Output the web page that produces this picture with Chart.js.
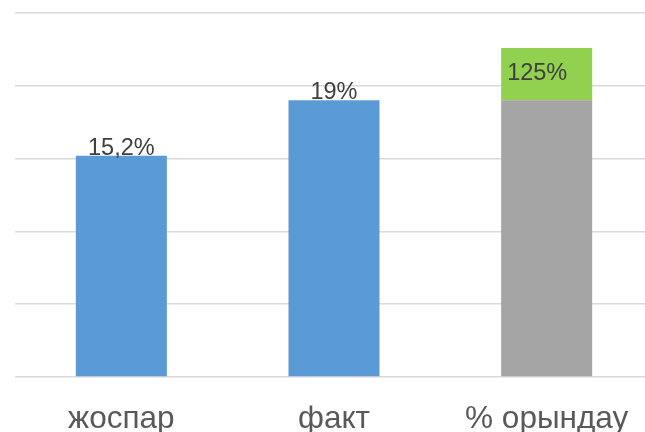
<!DOCTYPE html>
<html>
<head>
<meta charset="utf-8">
<script src="https://cdn.jsdelivr.net/npm/chart.js@4.4.0/dist/chart.umd.min.js"></script>
<style>
  html, body { margin: 0; padding: 0; overflow: hidden; background: #fff; }
  #wrap { width: 660px; height: 432px; }
</style>
</head>
<body>
<div id="wrap"><canvas id="planChart"></canvas></div>
<script>
// категориялар мен мәндер
const categories = ['жоспар', 'факт', '% орындау'];
const baseValues = [15.2, 19, 19];
const overValues = [null, null, 3.6];
const valueLabels = ['15,2%', '19%', '125%'];
const barColors = ['#5B9BD5', '#5B9BD5', '#A5A5A5'];

// бағандардың үстіне жазу
const labelPlugin = {
    id: 'barLabels',
    afterDatasetsDraw(chart) {
        const c = chart.ctx;
        c.save();
        c.font = '23.5px "Liberation Sans", Arial, sans-serif';
        c.fillStyle = '#404040';
        const baseMeta = chart.getDatasetMeta(0);
        const overMeta = chart.getDatasetMeta(1);
        for (let i = 0; i < 2; i++) {
            const bar = baseMeta.data[i];
            c.textAlign = 'center';
            c.textBaseline = 'alphabetic';
            c.fillText(valueLabels[i], bar.x, bar.y - 1);
        }
        const g = overMeta.data[2];
        c.textAlign = 'left';
        c.textBaseline = 'middle';
        c.fillText(valueLabels[2], g.x - g.width / 2 + 6, (g.y + g.base) / 2 - 1);
        c.restore();
    }
};

const ctx = document.getElementById('planChart').getContext('2d');

let planChart = new Chart(ctx, {
    type: 'bar',
    data: {
        labels: categories,
        datasets: [{
            data: baseValues,
            backgroundColor: barColors,
            barPercentage: 0.428,
            categoryPercentage: 1
        }, {
            data: overValues,
            backgroundColor: '#92D050',
            barPercentage: 0.428,
            categoryPercentage: 1
        }]
    },
    plugins: [labelPlugin],
    options: {
        responsive: true,
        maintainAspectRatio: false,
        animation: false,
        layout: {
            padding: { left: 15, right: 7, top: 13, bottom: 0 }
        },
        plugins: {
            legend: { display: false },
            tooltip: { enabled: false }
        },
        scales: {
            x: {
                stacked: true,
                grid: { display: false },
                border: { display: false },
                afterFit: scale => { scale.height = 55; },
                ticks: {
                    color: '#595959',
                    padding: 15,
                    font: { family: '"Liberation Sans", Arial, sans-serif', size: 31.5 }
                }
            },
            y: {
                stacked: true,
                min: 0,
                max: 25,
                ticks: { display: false, stepSize: 5 },
                grid: { color: '#D9D9D9', lineWidth: 1.5, drawTicks: false },
                border: { display: false }
            }
        }
    }
});
</script>
</body>
</html>
